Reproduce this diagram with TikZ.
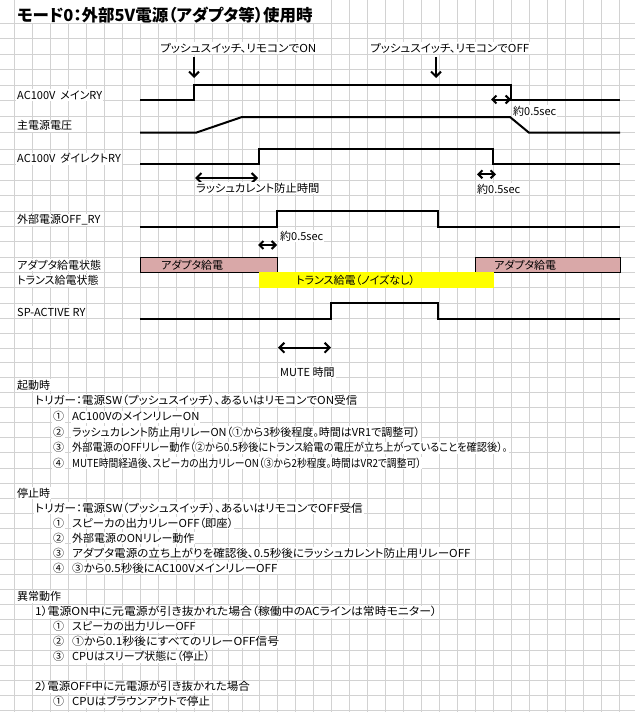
\documentclass[tikz,border=0pt]{standalone}
\usepackage{fontspec}
\usepackage{graphicx}
\usetikzlibrary{arrows.meta}
\newfontfamily\jp[RawFeature={+palt}]{Noto Sans CJK JP}
\newcommand\hs[2]{\scalebox{#1}[1]{#2}}
\definecolor{gridc}{RGB}{210,210,210}
\definecolor{pinkc}{RGB}{217,168,168}
\definecolor{yelc}{RGB}{255,255,0}
\begin{document}
\begin{tikzpicture}[x=1pt,y=-1pt,
  gridl/.style={draw=gridc,line width=0.8pt},
  wave/.style={line width=2pt,line join=miter},
  txt/.style={font=\jp\fontsize{11}{13}\selectfont,anchor=west,inner xsep=1pt,inner ysep=0pt,minimum height=12pt,fill=white},
  ttl/.style={font=\jp\bfseries\fontsize{16.5}{18}\selectfont,anchor=west,inner xsep=1pt,inner ysep=0pt},
  dnarr/.style={line width=2pt,-{Straight Barb[length=5pt,width=10pt]}},
  dbl/.style={line width=2pt,{Straight Barb[length=4pt,width=8pt]}-{Straight Barb[length=4pt,width=8pt]}},
  dblw/.style={line width=2pt,{Straight Barb[length=5pt,width=10pt]}-{Straight Barb[length=5pt,width=10pt]}}]
\useasboundingbox (0,0) rectangle (635,712);
\fill[white] (0,0) rectangle (635,712);
% grid
\foreach \gx in {14,32,50,68,86,104,122,140,158,176,194,212,228,242,259,277,295,313,331,349,367,385,403,421,439,457,475,493,511,529,547,565,583,601,619.5}
  \draw[gridl] (\gx,0) -- (\gx,712);
\foreach \gy in {23.2,38.5,54,69.5,85,100,116.5,132.5,149,164.5,180,195.5,211,226.5,241.5,257,272.3,287.7,303,318.5,333.5,348,362.5,377,392.2,407.3,422.5,437.6,452.8,468,483.1,498.3,513.4,528.6,543.8,558.9,574.1,589.2,604.4,619.6,634.7,649.9,665,680.2,695.4,710.5}
  \draw[gridl] (0,\gy) -- (635,\gy);
% title cell (gridlines hidden behind the overflowing title)
\fill[white] (14.5,0) rectangle (316,22.6);
% power state boxes
\draw[fill=pinkc,line width=0.8pt] (140.5,257) rectangle (277.5,272.3);
\draw[fill=pinkc,line width=0.8pt] (475.5,257) rectangle (620,272.3);
\fill[yelc] (259,272.3) rectangle (494,287.7);
% waveforms
\draw[wave] (140,100) -- (194,100) -- (194,85) -- (511,85) -- (511,100) -- (620,100);
\draw[wave] (140,132.7) -- (196,132.7) -- (242,117) -- (510,117) -- (529,132.7) -- (620,132.7);
\draw[wave] (140,164.3) -- (259,164.3) -- (259,149.3) -- (493,149.3) -- (493,164.3) -- (620,164.3);
\draw[wave] (140,226.7) -- (277,226.7) -- (277,210.7) -- (438,210.7) -- (438,226.7) -- (620,226.7);
\draw[wave] (140,319) -- (331,319) -- (331,302.7) -- (438,302.7) -- (438,319) -- (620,319);
% title
\node[ttl] (title) at (16,15) {モード0：外部5V電源（アダプタ等）使用時};
% trigger labels and arrows
\node[txt] (onlbl) at (159,48) {\hs{1.06}{プッシュスイッチ、リモコンでON}};
\node[txt] (offlbl) at (369,48) {\hs{1.05}{プッシュスイッチ、リモコンでOFF}};
\coordinate (onA) at (194,57);
\coordinate (onB) at (194,78);
\coordinate (offA) at (436,57);
\coordinate (offB) at (436,78);
\draw[dnarr] (onA) -- (onB);
\draw[dnarr] (offA) -- (offB);
% signal names
\node[txt] (n1) at (16,95) {AC100V\ \ メインRY};
\node[txt] (n2) at (16,125.5) {主電源電圧};
\node[txt] (n3) at (16,158.5) {AC100V\ \ ダイレクトRY};
\node[txt] (n4) at (16,220) {外部電源OFF\_RY};
\node[txt] (n5) at (16,265) {アダプタ給電状態};
\node[txt] (n6) at (16,280.5) {トランス給電状態};
\node[txt] (n7) at (16,312) {SP-ACTIVE RY};
% timing annotations
\coordinate (d1a) at (491,99.5);
\coordinate (d1b) at (511,99.5);
\draw[dbl] (d1a) -- (d1b);
\node[txt] (t1) at (512,111) {約0.5sec};
\coordinate (rsa) at (195,178);
\coordinate (rsb) at (258,178);
\draw[dblw] (rsa) -- (rsb);
\node[txt] (t2) at (195,188) {\hs{1.03}{ラッシュカレント防止時間}};
\coordinate (d2a) at (477,174.3);
\coordinate (d2b) at (496,174.3);
\draw[dbl] (d2a) -- (d2b);
\node[txt] (t3) at (476,189) {約0.5sec};
\coordinate (d3a) at (258,245);
\coordinate (d3b) at (277,245);
\draw[dbl] (d3a) -- (d3b);
\node[txt] (t4) at (279,236) {約0.5sec};
\node[anchor=west,inner sep=0pt,font=\jp\fontsize{11}{13}\selectfont] (ad1) at (161,265) {アダプタ給電};
\node[anchor=west,inner sep=0pt,font=\jp\fontsize{11}{13}\selectfont] (ad2) at (494,265) {アダプタ給電};
\node[anchor=west,inner sep=0pt,font=\jp\fontsize{11}{13}\selectfont] (tr) at (296,280) {トランス給電（ノイズなし）};
\coordinate (mua) at (278,347.7);
\coordinate (mub) at (331,347.7);
\draw[dblw] (mua) -- (mub);
\node[txt] (mute) at (279,372) {MUTE 時間};
% description text
\node[txt] (s1) at (16,385) {起動時};
\node[txt] (s1t) at (34,400) {\hs{1.055}{トリガー：電源SW（プッシュスイッチ）、あるいはリモコンでON受信}};
\node[txt] (s1n1) at (52,416.5) {①};
\node[txt] (s1i1) at (71,416.5) {\hs{1.03}{AC100VのメインリレーON}};
\node[txt] (s1n2) at (52,432) {②};
\node[txt] (s1i2) at (71,432) {ラッシュカレント防止用リレーON（①から3秒後程度。時間はVR1で調整可）};
\node[txt] (s1n3) at (52,447.5) {③};
\node[txt] (s1i3) at (71,447.5) {\hs{0.93}{外部電源のOFFリレー動作（②から0.5秒後にトランス給電の電圧が立ち上がっていることを確認後）。}};
\node[txt] (s1n4) at (52,463) {④};
\node[txt] (s1i4) at (71,463) {\hs{0.89}{MUTE時間経過後、スピーカの出力リレーON（③から2秒程度。時間はVR2で調整可）}};
\node[txt] (s2) at (16,493.3) {停止時};
\node[txt] (s2t) at (34,508.3) {\hs{1.058}{トリガー：電源SW（プッシュスイッチ）、あるいはリモコンでOFF受信}};
\node[txt] (s2n1) at (52,523.3) {①};
\node[txt] (s2i1) at (71,523.3) {\hs{1.03}{スピーカの出力リレーOFF（即座）}};
\node[txt] (s2n2) at (52,538.3) {②};
\node[txt] (s2i2) at (71,538.3) {外部電源のONリレー動作};
\node[txt] (s2n3) at (52,553.3) {③};
\node[txt] (s2i3) at (71,553.3) {\hs{1.05}{アダプタ電源の立ち上がりを確認後、0.5秒後にラッシュカレント防止用リレーOFF}};
\node[txt] (s2n4) at (52,568.3) {④};
\node[txt] (s2i4) at (71,568.3) {\hs{1.046}{③から0.5秒後にAC100VメインリレーOFF}};
\node[txt] (s3) at (16,596.7) {異常動作};
\node[txt] (s3a) at (34,611.7) {\hs{1.08}{1）電源ON中に元電源が引き抜かれた場合（稼働中のACラインは常時モニター）}};
\node[txt] (s3n1) at (52,626.7) {①};
\node[txt] (s3i1) at (71,626.7) {スピーカの出力リレーOFF};
\node[txt] (s3n2) at (52,641.7) {②};
\node[txt] (s3i2) at (71,641.7) {\hs{1.08}{①から0.1秒後にすべてのリレーOFF信号}};
\node[txt] (s3n3) at (52,656.7) {③};
\node[txt] (s3i3) at (71,656.7) {CPUはスリープ状態に（停止）};
\node[txt] (s3b) at (34,686.7) {\hs{1.047}{2）電源OFF中に元電源が引き抜かれた場合}};
\node[txt] (s3bn1) at (52,701.7) {①};
\node[txt] (s3bi1) at (71,701.7) {\hs{1.04}{CPUはブラウンアウトで停止}};
\end{tikzpicture}
\end{document}
